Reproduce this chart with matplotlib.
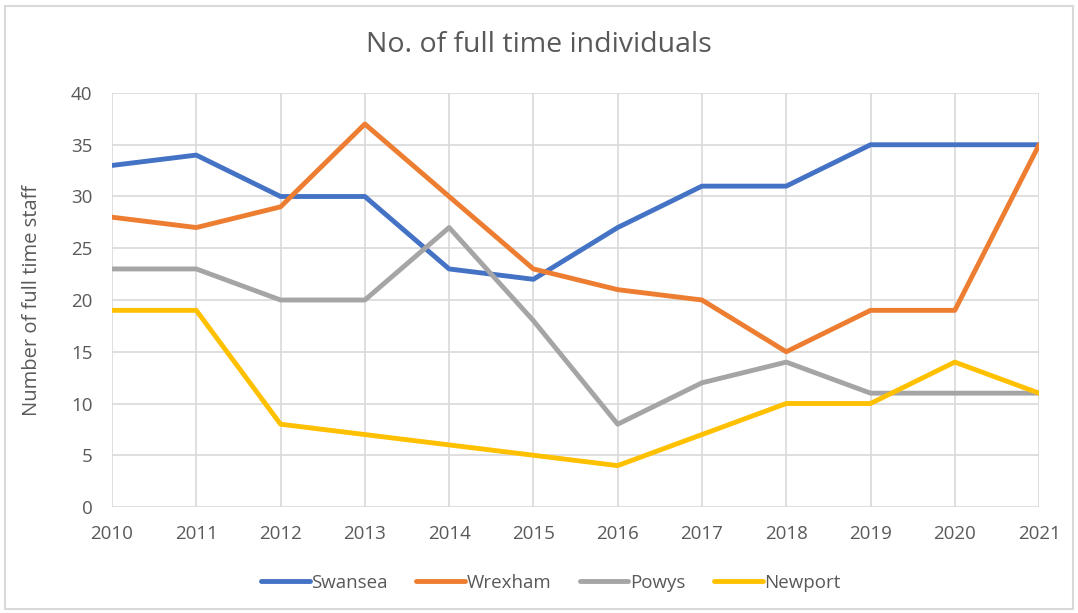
import matplotlib.pyplot as plt
from matplotlib.patches import Rectangle

years = list(range(2010, 2022))
swansea = [33, 34, 30, 30, 23, 22, 27, 31, 31, 35, 35, 35]
wrexham = [28, 27, 29, 37, 30, 23, 21, 20, 15, 19, 19, 35]
powys = [23, 23, 20, 20, 27, 18, 8, 12, 14, 11, 11, 11]
newport = [19, 19, 8, 7, 6, 5, 4, 7, 10, 10, 14, 11]

series = [("Swansea", swansea, "#4472c4"),
          ("Wrexham", wrexham, "#ed7d31"),
          ("Powys", powys, "#a5a5a5"),
          ("Newport", newport, "#ffc000")]

plt.rcParams['font.family'] = ['Open Sans', 'DejaVu Sans']
txt = "#595959"

fig = plt.figure(figsize=(10.78, 6.13), dpi=100)
fig.patches.append(Rectangle((0.005, 0.006), 0.99, 0.985, transform=fig.transFigure,
                             fill=False, edgecolor="#d9d9d9", linewidth=1.5))
ax = fig.add_axes([0.1039, 0.1729, 0.860, 0.6754])

for name, vals, col in series:
    ax.plot(years, vals, color=col, linewidth=3.5, label=name, solid_capstyle='round',
            solid_joinstyle='round', zorder=3)

ax.set_xlim(2010, 2021)
ax.set_ylim(0, 40)
ax.set_xticks(years)
ax.set_yticks(range(0, 41, 5))
ax.grid(True, color="#d9d9d9", linewidth=1.2, zorder=0)
for s in ax.spines.values():
    s.set_visible(False)
ax.tick_params(length=0, colors=txt, labelsize=13.5)
ax.tick_params(axis='x', pad=13)
ax.tick_params(axis='y', pad=14)
ax.set_ylabel("Number of full time staff", color=txt, fontsize=14.5, labelpad=21)

fig.text(0.5, 0.927, "No. of full time individuals", ha='center', va='center',
         fontsize=20.5, color=txt)

fig.legend(loc='center', bbox_to_anchor=(0.511, 0.049), ncol=4, frameon=False,
           fontsize=13.5, labelcolor=txt, handlelength=2.6, handletextpad=0.1,
           columnspacing=1.5)

fig.savefig("out.png", dpi=100)
